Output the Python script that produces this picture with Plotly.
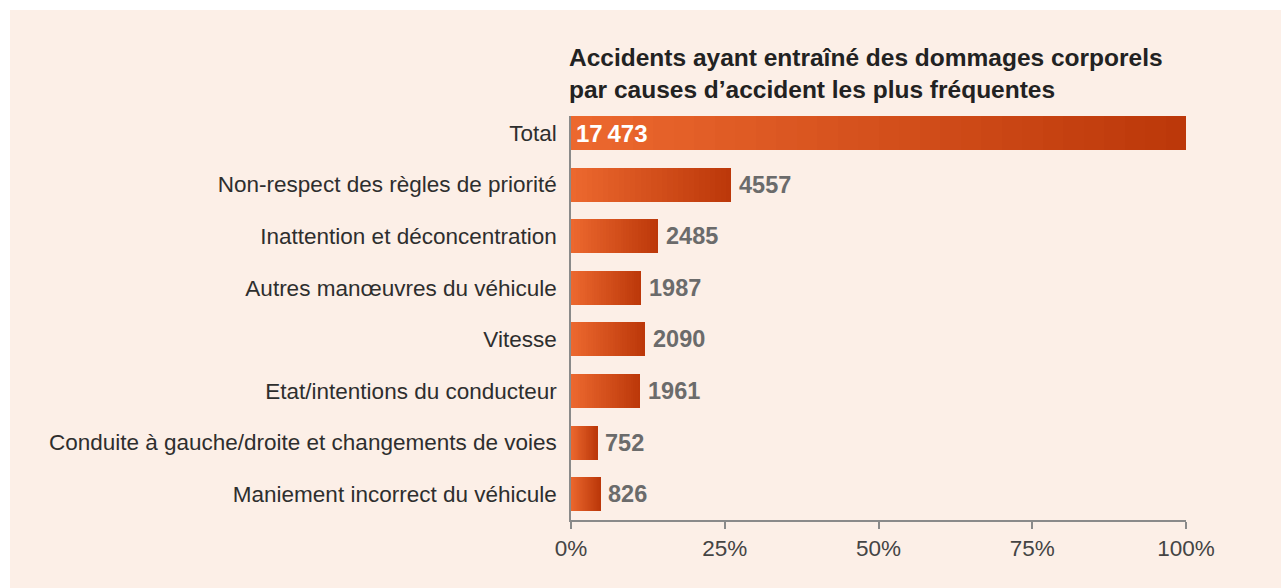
import plotly.graph_objects as go

categories = [
    "Total",
    "Non-respect des règles de priorité",
    "Inattention et déconcentration",
    "Autres manœuvres du véhicule",
    "Vitesse",
    "Etat/intentions du conducteur",
    "Conduite à gauche/droite et changements de voies",
    "Maniement incorrect du véhicule",
]
values = [17473, 4557, 2485, 1987, 2090, 1961, 752, 826]
value_labels = ["17\u2009473", "4557", "2485", "1987", "2090", "1961", "752", "826"]
tick_vals = [0, 25, 50, 75, 100]
tick_text = ["0%", "25%", "50%", "75%", "100%"]
title_text = "Accidents ayant entraîné des dommages corporels<br>par causes d’accident les plus fréquentes"

total = values[0]
pcts = [v / total * 100 for v in values]

# horizontal gradient per bar: stacked thin segments
K = 30
c0 = (236, 104, 46)
c1 = (188, 56, 10)

FONT = "Liberation Sans, Arial, sans-serif"

fig = go.Figure()
for k in range(K):
    t = k / (K - 1)
    col = "rgb(%d,%d,%d)" % tuple(round(a + (b - a) * t) for a, b in zip(c0, c1))
    fig.add_trace(go.Bar(
        y=categories, x=[p / K for p in pcts], orientation="h",
        marker=dict(color=col, line=dict(width=0)),
        hoverinfo="skip", showlegend=False,
    ))

annotations = []
for i, (cat, p, lab) in enumerate(zip(categories, pcts, value_labels)):
    if i == 0:
        annotations.append(dict(x=0, y=cat, xref="x", yref="y", text="<b>%s</b>" % lab,
                                showarrow=False, xanchor="left", xshift=3,
                                font=dict(family=FONT, size=24, color="white")))
    else:
        annotations.append(dict(x=p, y=cat, xref="x", yref="y", text="<b>%s</b>" % lab,
                                showarrow=False, xanchor="left", xshift=6,
                                font=dict(family=FONT, size=23.5, color="#6b6b6b")))

annotations.append(dict(x=0, y=1, xref="paper", yref="paper", text="<b>%s</b>" % title_text,
                        showarrow=False, xanchor="left", yanchor="top", align="left",
                        xshift=-4, yshift=74,
                        font=dict(family=FONT, size=24.5, color="#222222")))

top_px, bot_px = 116, 520
fig.update_layout(
    barmode="stack",
    bargap=0.34,
    width=1281, height=588,
    margin=dict(l=571, r=95, t=top_px, b=588 - bot_px),
    paper_bgcolor="white",
    plot_bgcolor="rgba(0,0,0,0)",
    annotations=annotations,
    shapes=[dict(type="rect", xref="paper", yref="paper",
                 x0=(10 - 571) / 615, x1=(1290 - 571) / 615,
                 y0=(bot_px - 600) / (bot_px - top_px), y1=(bot_px - 10) / (bot_px - top_px),
                 fillcolor="#fcefe7", line=dict(width=0), layer="below")],
)
fig.update_xaxes(range=[0, 100], tickvals=tick_vals, ticktext=tick_text,
                 ticks="outside", ticklen=7, tickwidth=1.5, tickcolor="#8a8a8a",
                 showline=True, linecolor="#8a8a8a", linewidth=1.5,
                 showgrid=False, zeroline=False,
                 tickfont=dict(family=FONT, size=22.5, color="#444444"))
fig.update_yaxes(range=[len(categories) - 0.5, -0.33], showline=True, linecolor="#8a8a8a", linewidth=1.5,
                 showgrid=False, zeroline=False, ticks="", ticklabelstandoff=8,
                 tickfont=dict(family=FONT, size=22.5, color="#2e2e2e"))

fig.write_html("out.html")
